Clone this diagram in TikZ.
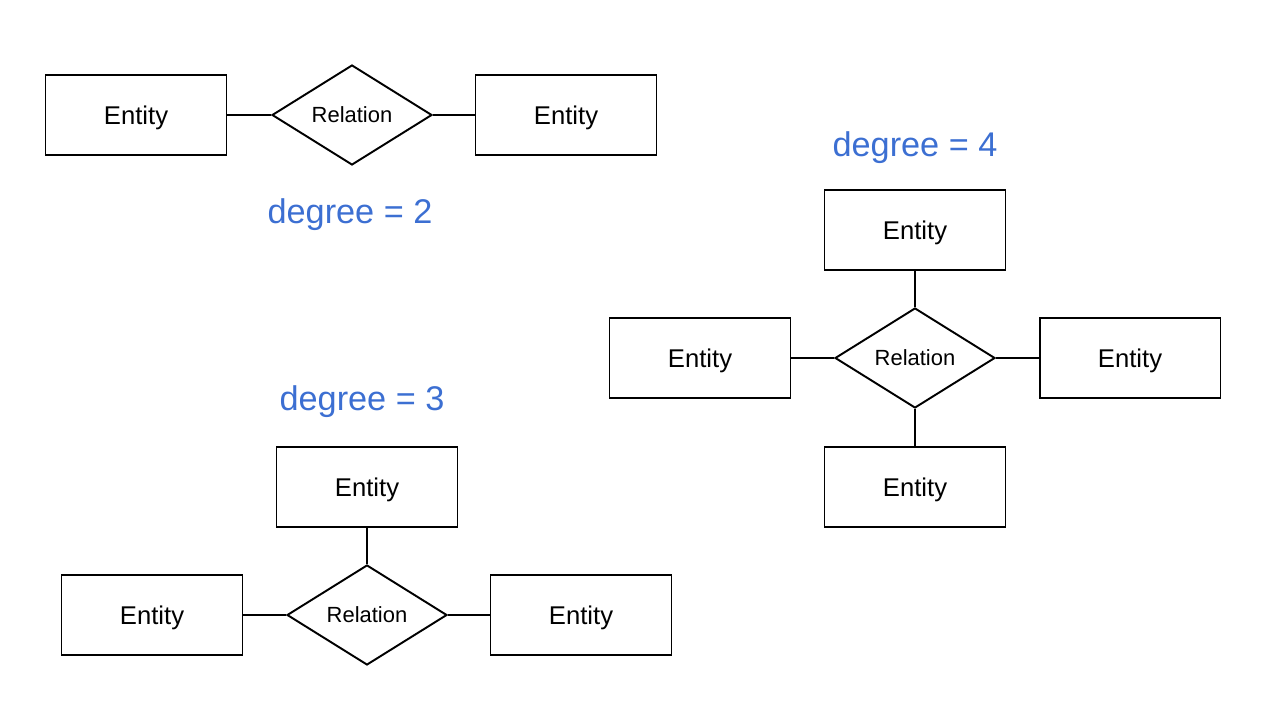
\documentclass[tikz,border=0pt]{standalone}
\usepackage{fontspec}
\setmainfont{Liberation Sans}
\usetikzlibrary{shapes.geometric}
\definecolor{degblue}{HTML}{3C6FD2}

\begin{document}
\begin{tikzpicture}[x=0.02cm, y=-0.02cm,
    entity/.style={draw, line width=1.1pt, minimum width=3.62cm, minimum height=1.6cm,
        inner sep=0pt, text depth=0pt, font=\fontsize{14.6}{16}\selectfont},
    relation/.style={draw, diamond, line width=1.1pt, minimum width=3.2cm, minimum height=2cm,
        inner sep=0pt, text depth=0pt, font=\fontsize{12.5}{14}\selectfont},
    degree/.style={text=degblue, text depth=0pt, font=\fontsize{19.5}{22}\selectfont},
    link/.style={line width=1.1pt}]

\useasboundingbox (0,0) rectangle (1280,715);

% degree = 2
\node[relation] (r2) at (352,115) {Relation};
\foreach \pos/\x in {w/136, e/566} {
    \node[entity] (e2\pos) at (\x,115) {Entity};
    \draw[link] (r2) -- (e2\pos);
}
\node[degree] (d2) at (350,211) {degree = 2};

% degree = 4
\node[relation] (r4) at (915,358) {Relation};
\foreach \pos/\x/\y in {
    n/915/230,
    w/700/358,
    e/1130/358,
    s/915/487%
} {
    \node[entity] (e4\pos) at (\x,\y) {Entity};
    \draw[link] (r4) -- (e4\pos);
}
\node[degree] (d4) at (915,144) {degree = 4};

% degree = 3
\node[relation] (r3) at (367,615) {Relation};
\foreach \pos/\x/\y in {
    n/367/487,
    w/152/615,
    e/581/615%
} {
    \node[entity] (e3\pos) at (\x,\y) {Entity};
    \draw[link] (r3) -- (e3\pos);
}
\node[degree] (d3) at (362,398) {degree = 3};

\end{tikzpicture}
\end{document}
